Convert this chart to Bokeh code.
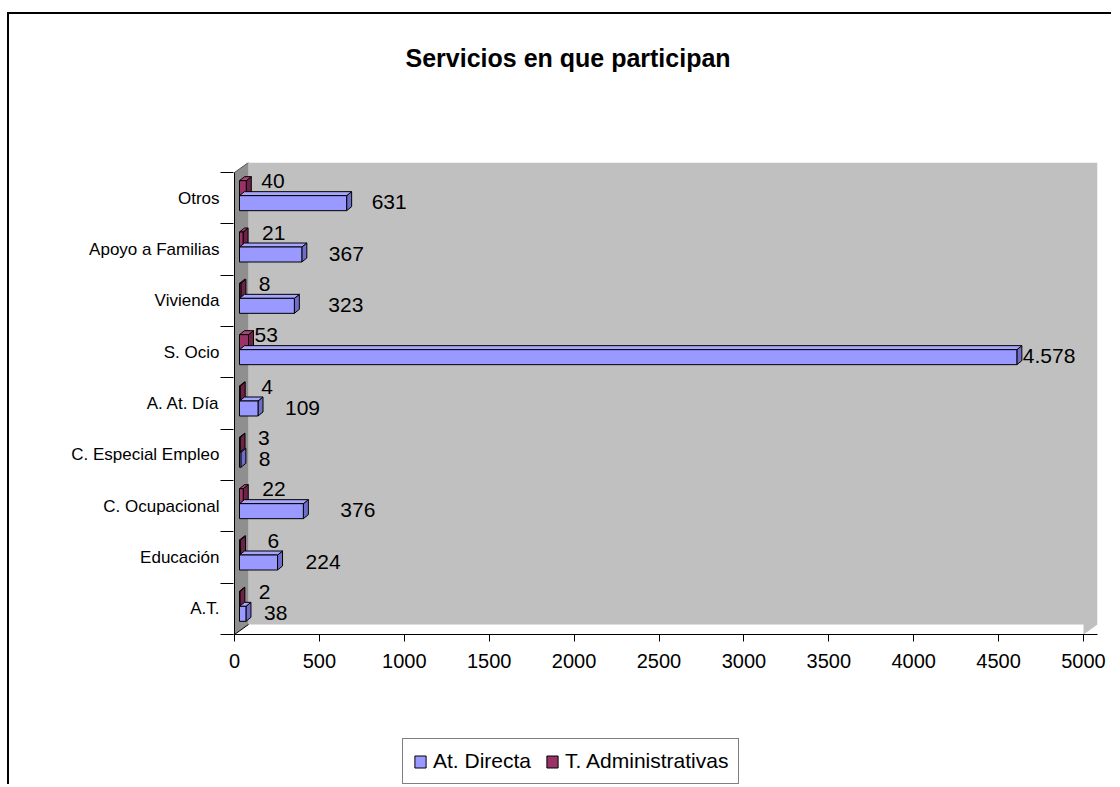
from bokeh.plotting import figure
from bokeh.layouts import column
from bokeh.models import Range1d, FixedTicker, Legend, LegendItem, ColumnDataSource, Label
from bokeh.core.properties import value
from bokeh.embed import file_html
from bokeh.resources import INLINE

# ---------------- data ----------------
categories = ["A.T.", "Educación", "C. Ocupacional", "C. Especial Empleo", "A. At. Día",
              "S. Ocio", "Vivienda", "Apoyo a Familias", "Otros"]
at_directa = [38, 224, 376, 8, 109, 4578, 323, 367, 631]
t_admin = [2, 6, 22, 3, 4, 53, 8, 21, 40]
series_names = ["At. Directa", "T. Administrativas"]
x_ticks = [0, 500, 1000, 1500, 2000, 2500, 3000, 3500, 4000, 4500, 5000]
title_text = "Servicios en que participan"

# label nudges (pixels), style only
blue_dx = [18, 28, 37, 18, 27, 6, 34, 27, 25]
maroon_dx = [19, 27, 19, 18, 21, 6, 18, 19, 15]

# ---------------- geometry / style ----------------
W = 1104
T_H = 100                     # title strip height
H = 626                       # main chart height
LEG_H = 46                    # legend strip height
FL, FR = 224, 1088            # frame left/right (canvas px)
FT, FB = 50, 522              # frame top/bottom within main chart
KX = 849 / 5000.0             # px per unit
KY = 462 / 9.0                # px per category
x_lo = -1 / KX
x_hi = x_lo + (FR - FL) / KX
y_lo = -0.5
y_hi = y_lo + (FB - FT) / KY

FONT = "Liberation Sans"
BLUE, BLUE_TOP, BLUE_SIDE = "#9999FF", "#A6A6FF", "#6E6EC8"
MAR, MAR_TOP, MAR_SIDE = "#993366", "#A84777", "#6E2247"
BORDER = "2px solid black"

def px_x(d):
    return d / KX

def px_y(d):
    return d / KY

WALL_DX, WALL_DY = px_x(14), px_y(10)
BAR_SHIFT = px_x(5)
BAR_H = px_y(15)
BAR_DX, BAR_DY = px_x(5), px_y(4)
BLUE_OFF = -px_y(5)
MAR_OFF = px_y(10)

# ---------------- title strip ----------------
pt = figure(width=W, height=T_H, output_backend="svg", toolbar_location=None,
            x_axis_location=None, y_axis_location=None,
            x_range=Range1d(0, FR - FL), y_range=Range1d(0, T_H),
            min_border_left=FL, min_border_right=W - FR, min_border_top=0, min_border_bottom=0)
pt.styles = {"border-top": BORDER, "border-left": BORDER}
pt.outline_line_color = None
pt.grid.visible = False
pt.add_layout(Label(x=172, y=T_H - 43, text=title_text, text_font=FONT,
                    text_font_size="25px", text_font_style="bold", text_color="black",
                    text_align="left", text_baseline="middle"))

# ---------------- main chart ----------------
p = figure(width=W, height=H, output_backend="svg", toolbar_location=None,
           x_range=Range1d(x_lo, x_hi), y_range=Range1d(y_lo, y_hi),
           min_border_left=FL, min_border_right=W - FR,
           min_border_top=FT, min_border_bottom=H - FB)
p.styles = {"border-left": BORDER}
p.outline_line_color = None
p.background_fill_color = "white"
p.border_fill_color = "white"
p.xgrid.visible = False
p.ygrid.visible = False

# walls
ytop = 8.5
p.patch([WALL_DX, 5000 + WALL_DX, 5000 + WALL_DX, 5000, 5000, WALL_DX],
        [ytop + WALL_DY, ytop + WALL_DY, -0.5 + WALL_DY, -0.5, -0.5 + WALL_DY, -0.5 + WALL_DY],
        fill_color="#C0C0C0", line_color=None)
p.patch([0, WALL_DX, WALL_DX, 0], [-0.5, -0.5 + WALL_DY, ytop + WALL_DY, ytop],
        fill_color="#8F8F8F", line_color=None)
p.line([0, WALL_DX], [-0.5, -0.5 + WALL_DY], line_color="black", line_width=1)
p.line([0, WALL_DX], [ytop, ytop + WALL_DY], line_color="#555555", line_width=1)
p.line([0, 0], [-0.5, ytop], line_color="black", line_width=1)   # front edge of side wall

# bars
def bar_parts(vals, off):
    front = dict(left=[], right=[], bottom=[], top=[])
    topf = dict(xs=[], ys=[])
    side = dict(xs=[], ys=[])
    for i, v in enumerate(vals):
        y0 = i + off - BAR_H / 2
        y1 = i + off + BAR_H / 2
        x0 = BAR_SHIFT
        x1 = BAR_SHIFT + v
        front["left"].append(x0); front["right"].append(x1)
        front["bottom"].append(y0); front["top"].append(y1)
        topf["xs"].append([x0, x1, x1 + BAR_DX, x0 + BAR_DX])
        topf["ys"].append([y1, y1, y1 + BAR_DY, y1 + BAR_DY])
        side["xs"].append([x1, x1 + BAR_DX, x1 + BAR_DX, x1])
        side["ys"].append([y0, y0 + BAR_DY, y1 + BAR_DY, y1])
    return front, topf, side

for vals, off, c_front, c_top, c_side in [(t_admin, MAR_OFF, MAR, MAR_TOP, MAR_SIDE),
                                          (at_directa, BLUE_OFF, BLUE, BLUE_TOP, BLUE_SIDE)]:
    front, topf, side = bar_parts(vals, off)
    p.patches(xs="xs", ys="ys", source=ColumnDataSource(side), fill_color=c_side,
              line_color="black", line_width=1)
    p.patches(xs="xs", ys="ys", source=ColumnDataSource(topf), fill_color=c_top,
              line_color="black", line_width=1)
    p.quad(left="left", right="right", bottom="bottom", top="top",
           source=ColumnDataSource(front), fill_color=c_front,
           line_color="black", line_width=1)

def fmt(v):
    return f"{v:,}".replace(",", ".")

# data labels
cats_idx = list(range(len(categories)))
p.text(x=[BAR_SHIFT + v for v in at_directa], y=[i - px_y(4) for i in cats_idx],
       text=[fmt(v) for v in at_directa], x_offset=blue_dx,
       text_font=value(FONT), text_font_size="21px", text_color="black",
       text_align="left", text_baseline="middle")
p.text(x=[BAR_SHIFT + v for v in t_admin], y=[i + px_y(17) for i in cats_idx],
       text=[fmt(v) for v in t_admin], x_offset=maroon_dx,
       text_font=value(FONT), text_font_size="21px", text_color="black",
       text_align="left", text_baseline="middle")

# axes
xa = p.xaxis[0]
xa.ticker = FixedTicker(ticks=x_ticks, minor_ticks=[])
xa.major_tick_out = 7
xa.major_tick_in = 0
xa.minor_tick_line_color = None
xa.axis_line_color = "black"
xa.major_tick_line_color = "black"
xa.major_label_text_font = FONT
xa.major_label_text_font_size = "20px"
xa.major_label_text_color = "black"
xa.major_label_standoff = 12

ya = p.yaxis[0]
ya.ticker = FixedTicker(ticks=cats_idx, minor_ticks=[i - 0.5 for i in range(len(categories) + 1)])
ya.major_label_overrides = {i: c for i, c in enumerate(categories)}
ya.major_tick_line_color = None
ya.major_tick_out = 0
ya.major_tick_in = 0
ya.minor_tick_out = 13
ya.minor_tick_in = 0
ya.minor_tick_line_color = "black"
ya.axis_line_color = None
ya.major_label_text_font = FONT
ya.major_label_text_font_size = "17px"
ya.major_label_text_color = "black"
ya.major_label_standoff = 1

# ---------------- legend strip ----------------
p2 = figure(width=W, height=LEG_H, output_backend="svg", toolbar_location=None,
            x_axis_location=None, y_axis_location=None,
            x_range=Range1d(0, FR - FL), y_range=Range1d(0, LEG_H),
            min_border_left=FL, min_border_right=W - FR, min_border_top=0, min_border_bottom=0)
p2.styles = {"border-left": BORDER}
p2.outline_line_color = None
p2.grid.visible = False
r_blue = p2.quad(left=[-50], right=[-40], bottom=[0], top=[10], fill_color=BLUE, line_color="black")
r_mar = p2.quad(left=[-50], right=[-40], bottom=[0], top=[10], fill_color=MAR, line_color="black")
legend = Legend(items=[LegendItem(label=series_names[0], renderers=[r_blue]),
                       LegendItem(label=series_names[1], renderers=[r_mar])],
                orientation="horizontal", location=(169, 0))
legend.label_text_font = FONT
legend.label_text_font_size = "21px"
legend.label_text_color = "black"
legend.glyph_width = 14
legend.glyph_height = 15
legend.spacing = 14
legend.padding = 10
legend.margin = 0
legend.label_standoff = 6
legend.border_line_color = "black"
legend.border_line_width = 1
legend.background_fill_color = "white"
legend.background_fill_alpha = 1
p2.add_layout(legend)

layout = column(pt, p, p2, spacing=0)
layout.margin = (12, 0, 0, 7)
open("out.html", "w").write(file_html(layout, INLINE))
